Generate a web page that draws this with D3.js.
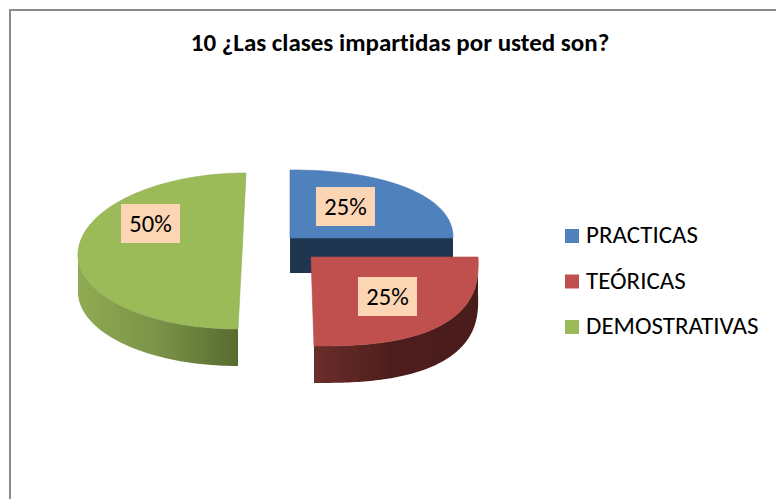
<!DOCTYPE html>
<html><head><meta charset="utf-8">
<script src="https://cdn.jsdelivr.net/npm/d3@7"></script>
<style>html,body{margin:0;padding:0;background:#fff;overflow:hidden}svg{display:block}text{font-family:Carlito,Lato,"Open Sans",sans-serif;fill:#000;font-variant-ligatures:none}</style>
</head><body>
<svg id="c" width="776" height="499"></svg>
<script>
const title = "10 ¿Las clases impartidas por usted son?";
const categories = ["PRACTICAS", "TEÓRICAS", "DEMOSTRATIVAS"];
const values = [25, 25, 50];
const topColors = ["#4f81bd", "#c0504d", "#9bbb59"];

// layout of the tilted, exploded pie (bulge < 1 squares the rim a little)
const geom = [
  {cx:290, cy:238, rx:163, ryBack:68, ryFront:68, skew:0, depth:35, bulge:0.92, label:[345.5,206.5]},
  {cx:311, cy:257, rx:167, ryBack:80, ryFront:89, skew:3, depth:37, bulge:0.77, label:[387.5,296.5]},
  {cx:242, cy:253, rx:164, ryBack:80, ryFront:76, skew:-4, depth:37, bulge:1, label:[150.5,223.5]}
];
const svg = d3.select("#c");
const defs = svg.append("defs");
const stops = (id, list) => {
  const g = defs.append("linearGradient").attr("id", id).attr("x1",0).attr("x2",1).attr("y1",0).attr("y2",0);
  list.forEach(([o,c]) => g.append("stop").attr("offset",o).attr("stop-color",c));
};
stops("wall2", [[0,"#6b2e2c"],[0.45,"#4f1f1d"],[1,"#4a1c1b"]]);
stops("wall3", [[0,"#8fab52"],[0.5,"#7a9347"],[1,"#586b30"]]);
defs.append("filter").attr("id","soft").append("feGaussianBlur").attr("stdDeviation",0.6);

// frame
svg.append("path").attr("d", "M10 499V10H776").attr("fill","none").attr("stroke","#8c8c8c").attr("stroke-width",2);

svg.append("text").attr("x",400).attr("y",51).attr("text-anchor","middle")
  .attr("font-weight",700).attr("font-size",25).text(title);

const arcs = d3.pie().sort(null).value(d=>d)(values);
const project = (g,a) => {
  const pow = v => Math.sign(v)*Math.pow(Math.abs(v), g.bulge);
  const c = pow(Math.cos(a)), s = pow(Math.sin(a));
  return [g.cx + g.rx*s - g.skew*c, g.cy - (c>0 ? g.ryBack : g.ryFront)*c];
};
const line = d3.line();
[0,2,1].forEach(i => {
  const g = geom[i], a = arcs[i];
  const n = 96;
  const ang = d3.range(n+1).map(k => a.startAngle + (a.endAngle-a.startAngle)*k/n);
  const rim = ang.map(t => project(g,t));
  const apex = [g.cx, g.cy];
  const layer = svg.append("g");
  if (i === 0) {
    const wallPts = [apex, rim[n], [rim[n][0],rim[n][1]+g.depth], [apex[0],apex[1]+g.depth]];
    layer.append("path").attr("d", line(wallPts)+"Z").attr("fill","#1f3550");
  } else {
    const vis = rim.filter(p => p[1] >= g.cy - 0.5);
    const wallPts = vis.concat(vis.slice().reverse().map(p => [p[0], p[1]+g.depth]));
    layer.append("path").attr("d", line(wallPts)+"Z")
      .attr("fill", `url(#wall${i+1})`).attr("filter","url(#soft)");
  }
  layer.append("path").attr("d", line([apex].concat(rim))+"Z")
    .attr("fill", topColors[i]).attr("stroke", d3.color(topColors[i]).darker(0.25)).attr("stroke-width",0.6);
});

// data labels
const pct = d3.format(".0%");
arcs.forEach((a,i) => {
  const [x,y] = geom[i].label;
  svg.append("rect").attr("x",x-29.5).attr("y",y-19.5).attr("width",59).attr("height",39).attr("fill","#fcd5b5");
  svg.append("text").attr("x",x).attr("y",y+8).attr("text-anchor","middle").attr("font-size",24.5)
    .text(pct(a.value/d3.sum(values)));
});

// legend
const legendY = d3.scalePoint().domain(categories).range([236,327]);
categories.forEach((c,i) => {
  const y = legendY(c);
  svg.append("rect").attr("x",565).attr("y",y-7).attr("width",14).attr("height",14).attr("fill",topColors[i]);
  svg.append("text").attr("x",586).attr("y",y+7).attr("font-size",25).text(c);
});
</script>
</body></html>
